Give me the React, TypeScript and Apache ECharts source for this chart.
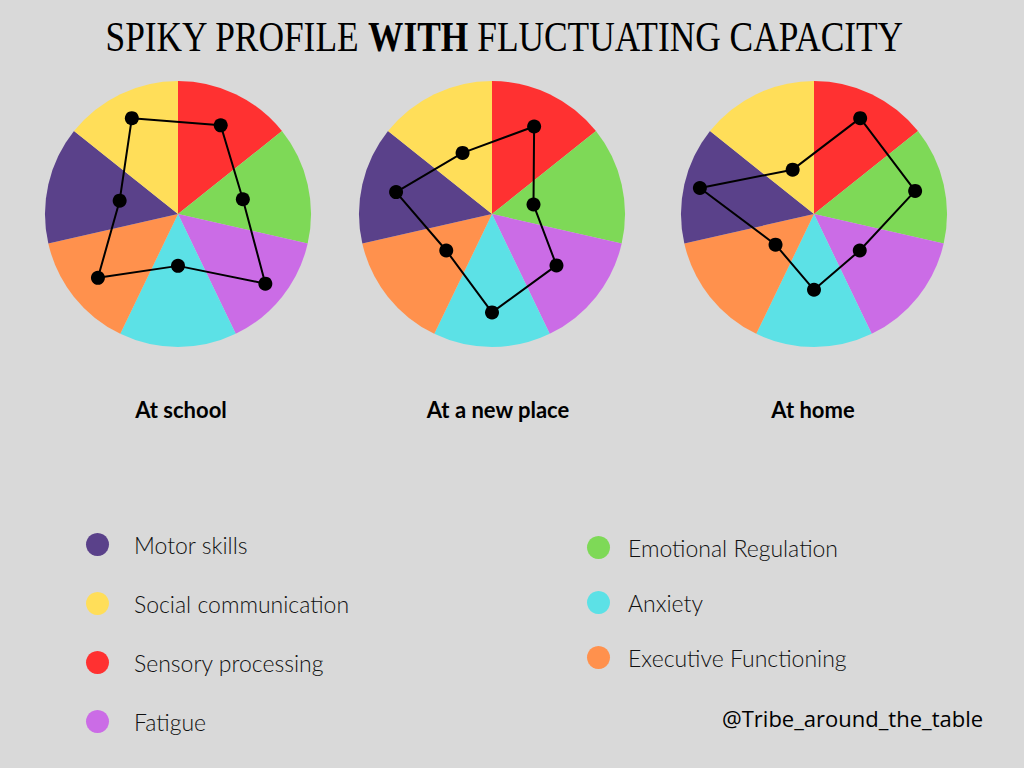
import React, { useEffect, useRef } from "react";
import * as echarts from "echarts";

// Pie slices, clockwise from 12 o'clock
const sliceNames = [
  "Sensory processing",
  "Emotional Regulation",
  "Fatigue",
  "Anxiety",
  "Executive Functioning",
  "Motor skills",
  "Social communication",
];
const sliceColors = ["#FF3131", "#7ED957", "#CB6CE6", "#5CE1E6", "#FF914D", "#5A418A", "#FFDE59"];
const sliceValues = [1, 1, 1, 1, 1, 1, 1];

// Radar axes, counter-clockwise starting at the middle of the red slice
const radarAxes = [
  "Sensory processing",
  "Social communication",
  "Motor skills",
  "Executive Functioning",
  "Anxiety",
  "Fatigue",
  "Emotional Regulation",
];
const contexts = ["At school", "At a new place", "At home"];
const schoolValues = [7.4, 8.0, 4.5, 7.7, 3.9, 8.4, 5.0];
const newPlaceValues = [7.3, 5.1, 7.4, 4.4, 7.4, 6.2, 3.2];
const homeValues = [8.0, 3.7, 8.8, 3.7, 5.7, 4.4, 7.8];
const profileValues = [schoolValues, newPlaceValues, homeValues];

const legendLeft = ["Motor skills", "Social communication", "Sensory processing", "Fatigue"];
const legendRight = ["Emotional Regulation", "Anxiety", "Executive Functioning"];

const titleParts = ["SPIKY PROFILE ", "WITH", " FLUCTUATING CAPACITY"];
const credit = "@Tribe_around_the_table";

export default function App() {
  const ref = useRef<HTMLDivElement>(null);
  useEffect(() => {
    document.body.style.margin = "0";
    document.body.style.background = "#D9D9D9";
    const chart = echarts.init(ref.current!, null, { renderer: "svg" });
    const centersX = [178, 492, 814];
    const labelX = [181, 498, 813];
    const cy = 214;
    const R = 133;
    const pies = centersX.map((cx, i) => ({
      type: "pie",
      name: contexts[i],
      center: [cx, cy],
      radius: R,
      startAngle: 90,
      clockwise: true,
      z: 1,
      label: { show: false },
      labelLine: { show: false },
      emphasis: { disabled: true },
      silent: true,
      itemStyle: { borderWidth: 0 },
      data: sliceNames.map((n, k) => ({ name: n, value: sliceValues[k], itemStyle: { color: sliceColors[k] } })),
    }));
    const radars = centersX.map((cx) => ({
      center: [cx, cy],
      radius: R,
      startAngle: 90 - 360 / 14,
      indicator: radarAxes.map((n) => ({ name: n, max: 10, min: 0 })),
      axisName: { show: false },
      axisLine: { show: false },
      splitLine: { show: false },
      splitArea: { show: false },
      axisTick: { show: false },
      axisLabel: { show: false },
      splitNumber: 1,
    }));
    const radarSeries = profileValues.map((vals, i) => ({
      type: "radar",
      radarIndex: i,
      z: 5,
      symbol: "circle",
      symbolSize: 14,
      itemStyle: { color: "#000" },
      lineStyle: { color: "#000", width: 2, opacity: 1, type: "solid" },
      emphasis: { disabled: true },
      data: [
        {
          name: contexts[i],
          value: vals,
          symbol: "circle",
          symbolSize: 14,
          itemStyle: { color: "#000" },
          lineStyle: { color: "#000", width: 2, opacity: 1, type: "solid" },
        },
      ],
    }));
    const legendCommon = {
      orient: "vertical",
      icon: "circle",
      itemWidth: 23,
      itemHeight: 23,
      padding: 0,
      selectedMode: false,
    };
    const legendText = (pad: number) => ({
      fontFamily: "Lato",
      fontWeight: 300,
      fontSize: 23,
      color: "#111",
      padding: [0, 0, 0, pad],
    });
    chart.setOption({
      animation: false,
      backgroundColor: "#D9D9D9",
      title: labelX.map((lx, i) => ({
        text: contexts[i],
        left: lx,
        top: 398,
        padding: 0,
        textAlign: "center",
        textStyle: { fontFamily: "Lato", fontWeight: 700, fontSize: 22, color: "#000" },
      })),
      legend: [
        { ...legendCommon, left: 86, top: 533, itemGap: 36, textStyle: legendText(20), data: legendLeft },
        { ...legendCommon, left: 587, top: 536, itemGap: 32, textStyle: legendText(13), data: legendRight },
      ],
      radar: radars,
      series: [...pies, ...radarSeries],
      graphic: [
        {
          type: "text",
          x: 504,
          y: 36,
          scaleX: 0.842,
          style: {
            text: `{n|${titleParts[0]}}{b|${titleParts[1]}}{n|${titleParts[2]}}`,
            textAlign: "center",
            textVerticalAlign: "middle",
            rich: {
              n: { fontFamily: "Liberation Serif", fontSize: 42, color: "#000" },
              b: { fontFamily: "Liberation Serif", fontSize: 42, fontWeight: "bold", color: "#000" },
            },
          },
        },
        {
          type: "text",
          x: 722,
          y: 718,
          style: {
            text: credit,
            textAlign: "left",
            textVerticalAlign: "middle",
            fontFamily: "Open Sans",
            fontWeight: 500,
            fontSize: 22,
            fill: "#000",
          },
        },
      ],
    });
    return () => chart.dispose();
  }, []);
  return <div ref={ref} style={{ width: 1024, height: 768 }} />;
}
